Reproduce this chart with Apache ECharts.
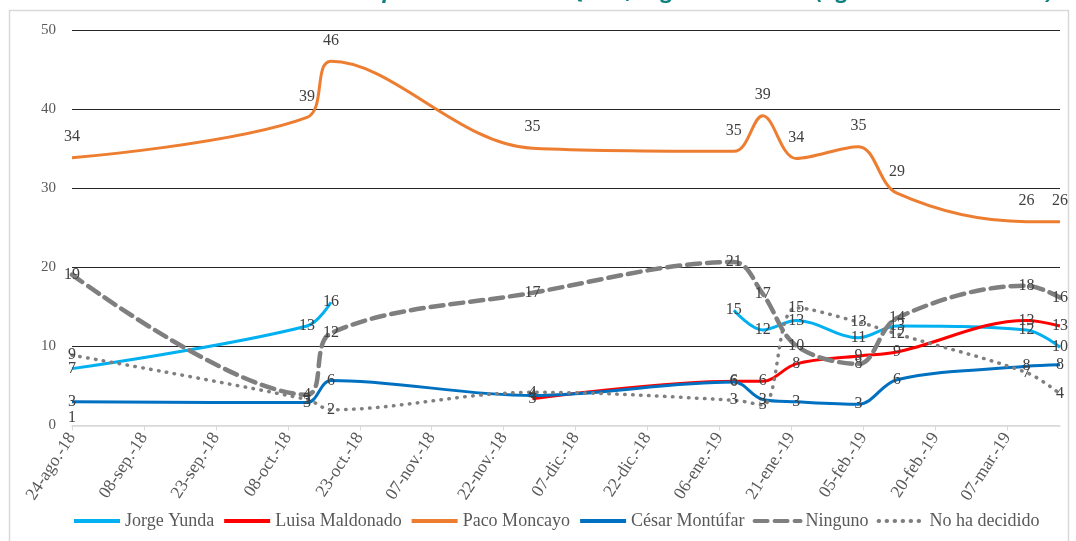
<!DOCTYPE html>
<html>
<head>
<meta charset="utf-8">
<script src="https://cdn.jsdelivr.net/npm/echarts@6/dist/echarts.min.js"></script>
<style>
  html, body { margin: 0; padding: 0; background: #ffffff; }
  #chart { width: 1076px; height: 541px; }
</style>
</head>
<body>
<div id="chart"></div>
<script>
// survey dates (x) and values per option
const startDate = '2018-08-24'
const surveyDates = [
  '2018-08-24', '2018-10-12', '2018-10-17', '2018-11-28', '2019-01-09', '2019-01-15',
  '2019-01-22', '2019-02-04', '2019-02-12', '2019-03-11', '2019-03-18',
]
const jorgeYunda = [7.2, 12.6, 15.6, null, 14.6, 12.1, 13.3, 11.1, 12.6, 12.1, 9.9]
const luisaMaldonado = [1, null, null, 3.4, 5.6, 5.6, 7.8, 8.8, 9.3, 13.3, 12.6]
const pacoMoncayo = [33.9, 39, 46.1, 35.1, 34.7, 39.2, 33.8, 35.3, 29.4, 25.8, 25.8]
const cesarMontufar = [3.0, 2.9, 5.7, 3.8, 5.5, 3.3, 3.0, 2.7, 5.8, 7.5, 7.7]
const ninguno = [19.1, 3.9, 11.7, 16.8, 20.7, 16.7, 10.1, 7.8, 13.6, 17.7, 16.2]
const noHaDecidido = [8.9, 3.3, 2.0, 4.2, 3.2, 2.6, 14.9, 13.1, 11.6, 6.7, 4.0]

const tickLabels = [
  '24-ago.-18', '08-sep.-18', '23-sep.-18', '08-oct.-18', '23-oct.-18', '07-nov.-18', '22-nov.-18',
  '07-dic.-18', '22-dic.-18', '06-ene.-19', '21-ene.-19', '05-feb.-19', '20-feb.-19', '07-mar.-19',
]
const tickStep = 15
const axisEnd = '2019-03-18'

const dayOf = (s) => (Date.parse(s) - Date.parse(startDate)) / 86400000
const days = surveyDates.map(dayOf)
const tickValues = tickLabels.map((_, i) => i * tickStep)

const serif = '"Liberation Serif", "DejaVu Serif", serif'

const makeSeries = (name, values, color, lineType, width, labelPos) => ({
  name: name,
  type: 'line',
  smooth: 0.35,
  connectNulls: false,
  data: values.map((v, i) => [days[i], v]),
  symbol: 'circle',
  symbolSize: 0,
  showSymbol: true,
  lineStyle: { color: color, width: width, type: lineType, cap: lineType === 'solid' ? 'butt' : 'round' },
  itemStyle: { color: color },
  label: {
    show: true,
    position: labelPos,
    distance: 13,
    fontFamily: serif,
    fontSize: 16,
    color: '#404040',
    formatter: (p) => Math.round(p.value[1]),
  },
  emphasis: { disabled: true },
})

const chart = echarts.init(document.getElementById('chart'))

chart.setOption({
  animation: false,
  backgroundColor: '#ffffff',
  graphic: [
    {
      type: 'rect',
      shape: { x: 9.5, y: 10.5, width: 1059, height: 600 },
      style: { fill: 'none', stroke: '#d9d9d9', lineWidth: 1.5 },
      silent: true,
    },
    {
      type: 'text',
      right: 22,
      top: -19,
      style: {
        text: 'Intención de voto por la Alcaldía de Quito, según encuestas (ago. 2018 – mar. 2019)',
        fill: '#0f7f7f',
        font: 'italic bold 22px "Open Sans", sans-serif',
      },
      silent: true,
    },
  ],
  legend: {
    bottom: 6,
    left: 67,
    itemWidth: 46,
    itemHeight: 12,
    itemGap: 8,
    itemStyle: { opacity: 0 },
    lineStyle: { width: 4 },
    textStyle: { fontFamily: serif, fontSize: 18, color: '#595959' },
    data: ['Jorge Yunda', 'Luisa Maldonado', 'Paco Moncayo', 'César Montúfar', 'Ninguno', 'No ha decidido'],
  },
  grid: {
    left: 72,
    right: 16,
    top: 30.5,
    bottom: 115.5,
    containLabel: false,
  },
  xAxis: {
    type: 'value',
    min: 0,
    max: dayOf(axisEnd),
    axisLine: { show: true, lineStyle: { color: '#d9d9d9', width: 1.5 } },
    axisTick: { show: true, customValues: tickValues, length: 5, lineStyle: { color: '#d9d9d9' } },
    axisLabel: {
      customValues: tickValues,
      rotate: 57,
      margin: 9,
      fontFamily: serif,
      fontSize: 17.5,
      color: '#595959',
      formatter: (v) => tickLabels[Math.round(v / tickStep)] || '',
    },
    splitLine: { show: false },
  },
  yAxis: {
    type: 'value',
    min: 0,
    max: 50,
    interval: 10,
    axisLine: { show: false },
    axisTick: { show: false },
    axisLabel: { margin: 16, fontFamily: serif, fontSize: 15, color: '#595959' },
    splitLine: {
      lineStyle: { color: ['#d9d9d9', '#262626', '#262626', '#262626', '#262626', '#262626'], width: 1 },
    },
  },
  series: [
    makeSeries('Jorge Yunda', jorgeYunda, '#00b0f0', 'solid', 3, 'inside'),
    makeSeries('Luisa Maldonado', luisaMaldonado, '#ff0000', 'solid', 3, 'inside'),
    makeSeries('Paco Moncayo', pacoMoncayo, '#ed7d31', 'solid', 3, 'top'),
    makeSeries('César Montúfar', cesarMontufar, '#0070c0', 'solid', 3, 'inside'),
    makeSeries('Ninguno', ninguno, '#7f7f7f', [13, 7], 4.5, 'inside'),
    makeSeries('No ha decidido', noHaDecidido, '#7f7f7f', [0.5, 7.5], 3.5, 'inside'),
  ],
})
</script>
</body>
</html>
